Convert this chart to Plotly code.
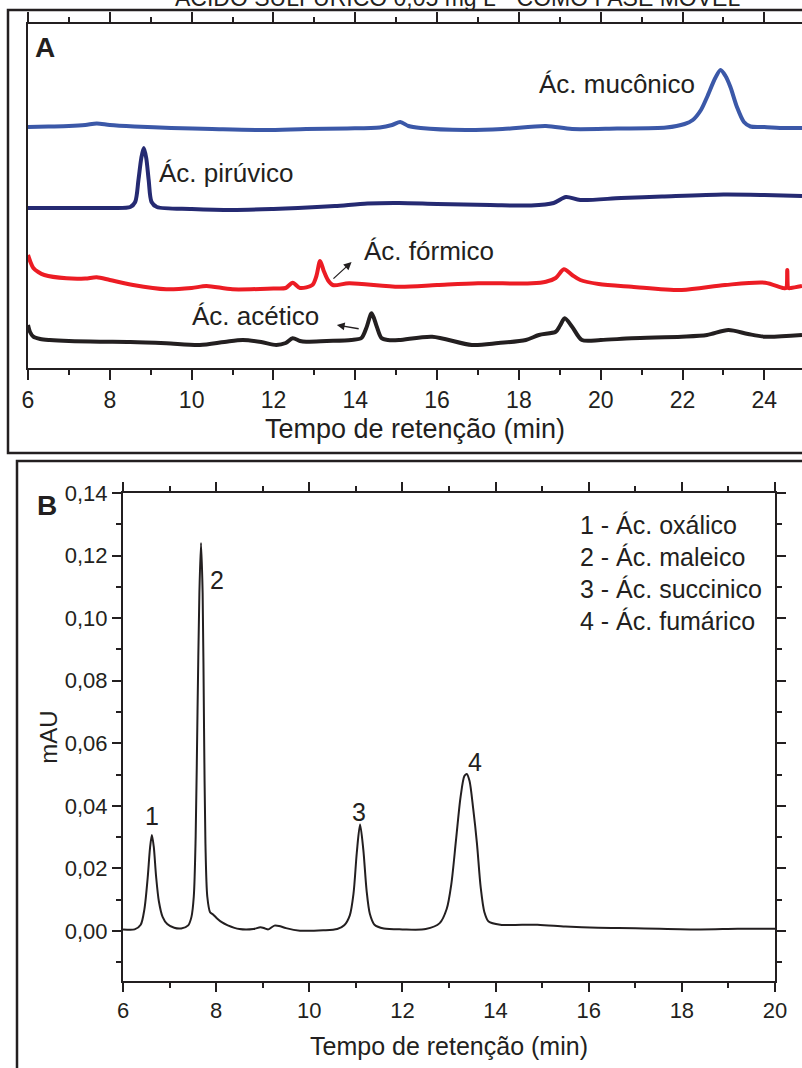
import plotly.graph_objects as go

# ---------------- Panel A data (retention time, min ; relative signal) ----------------
muc_t = [6.0, 6.5, 7.0, 7.4, 7.68, 8.0, 8.6, 9.5, 10.5, 11.8, 12.8, 13.8, 14.6, 14.9, 15.1, 15.3,
         15.6, 16.7, 17.6, 18.66, 19.3, 20.4, 21.6, 22.05, 22.25, 22.45, 22.6, 22.8, 22.93, 23.05,
         23.17, 23.33, 23.5, 23.66, 24.0, 24.5, 24.92]
muc_s = [241, 241.5, 242, 243, 244.5, 243, 241.5, 240, 239, 238, 239, 239.5, 240.5, 243, 246, 242,
         240, 238, 239, 242, 239, 239.5, 240.5, 244, 248, 258, 271, 290, 298, 292,
         281, 261, 246, 241.5, 241, 240, 240]

piru_t = [6.0, 7.0, 8.0, 8.5, 8.62, 8.70, 8.77, 8.83, 8.89, 8.95, 9.02, 9.15, 10.0, 11.0, 12.0,
          12.6, 13.5, 14.3, 15.07, 16.0, 17.3, 18.3, 18.85, 19.15, 19.5, 20.5, 21.5, 23.0, 24.0, 24.92]
piru_s = [160, 160, 160, 161, 166, 188, 210, 220, 210, 188, 166, 161, 159, 158, 159,
          160, 162, 164.5, 165, 164, 163, 162.5, 165, 171, 168, 170, 171.5, 173.5, 173, 172]

form_t = [6.0, 6.06, 6.13, 6.25, 6.4, 6.94, 7.4, 7.68, 8.0, 8.57, 9.38, 10.0, 10.36, 11.0, 12.0,
          12.3, 12.47, 12.65, 12.95, 13.05, 13.14, 13.23, 13.33, 13.45, 13.85, 15.07, 16.0, 17.0,
          18.32, 18.66, 18.9, 19.1, 19.3, 19.5, 19.95, 20.76, 21.98, 23.04, 24.02, 24.45, 24.53,
          24.56, 24.59, 24.65, 24.92]
form_s = [113, 106, 100, 96, 93, 89.7, 89.5, 90.7, 88, 83, 78.7, 80, 82, 78.7, 79.5,
          80, 85.3, 80, 83, 92, 107, 97, 88, 83, 84.7, 81.3, 83, 84.7,
          84.7, 86.3, 90, 98.7, 93, 88, 84, 81.3, 78, 83, 85.3, 80, 80,
          98, 80, 80, 82]

acet_t = [6.0, 6.05, 6.13, 6.3, 6.53, 7.0, 7.76, 8.5, 9.38, 10.2, 10.8, 11.25, 11.7, 12.07, 12.3,
          12.47, 12.65, 12.8, 13.3, 13.9, 14.15, 14.27, 14.4, 14.52, 14.64, 14.8, 15.07, 15.88,
          16.85, 17.5, 18.17, 18.49, 18.9, 19.0, 19.12, 19.3, 19.54, 20.0, 20.76, 21.98, 22.6,
          23.12, 23.6, 24.02, 24.92]
acet_s = [43, 36, 31.3, 29, 28, 27, 26.3, 26, 24.7, 23, 26, 28, 26, 23, 25,
          29.7, 27, 26.3, 27, 28, 30, 40, 54.7, 42, 30, 28, 28, 31.3,
          23, 25, 28, 33, 36.3, 42, 49.7, 41.3, 28, 28, 29.7, 31.3, 33,
          38, 34, 31.3, 33]

# ---------------- Panel B data (retention time, min ; mAU) ----------------
b_t = [6.0, 6.25, 6.38, 6.46, 6.53, 6.58, 6.62, 6.66, 6.71, 6.77, 6.85, 6.95, 7.1, 7.25, 7.4,
       7.47, 7.52, 7.56, 7.60, 7.64, 7.675, 7.71, 7.74, 7.77, 7.81, 7.87, 7.94, 8.02, 8.12, 8.25,
       8.5, 8.8, 8.95, 9.05, 9.12, 9.25, 9.35, 9.5, 9.8, 10.3, 10.6, 10.75, 10.87, 10.95, 11.02,
       11.09, 11.16, 11.23, 11.3, 11.4, 11.6, 12.0, 12.5, 12.8, 12.95, 13.05, 13.15, 13.25, 13.33,
       13.38, 13.44, 13.52, 13.6, 13.68, 13.76, 13.85, 14.1, 14.9, 15.5, 16.2, 17.0, 18.4, 19.2, 20.0]
b_v = [0.0005, 0.0005, 0.0020, 0.0070, 0.0170, 0.0265, 0.0307, 0.0270, 0.0175, 0.0095, 0.0045,
       0.0022, 0.0010, 0.0008, 0.0018,
       0.0045, 0.0110, 0.0300, 0.0700, 0.1080, 0.1240, 0.1080, 0.0650, 0.0280, 0.0110, 0.0060,
       0.0052, 0.0040, 0.0028, 0.0018,
       0.0006, 0.0006, 0.0012, 0.0008, 0.0005, 0.0017, 0.0016, 0.0009, 0.0001, 0.0002, 0.0006,
       0.0018, 0.0050, 0.0120, 0.0250,
       0.0340, 0.0260, 0.0130, 0.0055, 0.0020, 0.0008, 0.0005, 0.0006, 0.0025, 0.0070, 0.0150,
       0.0290, 0.0430, 0.0495,
       0.0502, 0.0480, 0.0390, 0.0280, 0.0140, 0.0060, 0.0030, 0.0020, 0.0020, 0.0014, 0.0010,
       0.0009, 0.0005, 0.0007, 0.0007]

peak_ids = ["1", "2", "3", "4"]
peak_lbl_t = [6.62, 8.01, 11.07, 13.56]
peak_lbl_v = [0.0368, 0.1122, 0.0380, 0.0540]
legend_lines = ["1 - Ác. oxálico", "2 - Ác. maleico", "3 - Ác. succinico", "4 - Ác. fumárico"]

xA_ticks = list(range(6, 25, 2))
xB_ticks = list(range(6, 21, 2))
yB_ticks = [0.0, 0.02, 0.04, 0.06, 0.08, 0.10, 0.12, 0.14]

W, H = 802, 1068
FONT = "Liberation Sans, Arial, Helvetica, sans-serif"
INK = "#231f20"

def px(x):
    return x / W

def py(y):
    return 1 - y / H

fig = go.Figure()
line_kw = dict(shape="spline", smoothing=0.8)
fig.add_trace(go.Scatter(x=muc_t, y=muc_s, mode="lines", line=dict(color="#3b58a8", width=4, **line_kw),
                         xaxis="x", yaxis="y", showlegend=False))
fig.add_trace(go.Scatter(x=piru_t, y=piru_s, mode="lines", line=dict(color="#252a72", width=4, **line_kw),
                         xaxis="x", yaxis="y", showlegend=False))
fig.add_trace(go.Scatter(x=form_t, y=form_s, mode="lines", line=dict(color="#ec1c24", width=4, **line_kw),
                         xaxis="x", yaxis="y", showlegend=False))
fig.add_trace(go.Scatter(x=acet_t, y=acet_s, mode="lines", line=dict(color=INK, width=4, **line_kw),
                         xaxis="x", yaxis="y", showlegend=False))
fig.add_trace(go.Scatter(x=b_t, y=b_v, mode="lines", line=dict(color=INK, width=2, **line_kw),
                         xaxis="x2", yaxis="y2", showlegend=False))

base_ax = dict(showgrid=False, zeroline=False, showline=True, linecolor=INK, linewidth=2, tickcolor=INK,
               automargin=False)

fig.update_layout(
    width=W, height=H, autosize=False,
    margin=dict(l=0, r=0, t=0, b=0, pad=0, autoexpand=False),
    paper_bgcolor="white", plot_bgcolor="white",
    separators=",.", showlegend=False,
    font=dict(family=FONT, color=INK),
    xaxis=dict(domain=[px(28), 1], range=[6, 24.92], anchor="y", mirror="allticks",
               ticks="outside", ticklen=10, tickwidth=1.5, tickvals=xA_ticks,
               minor=dict(dtick=1, ticks="outside", ticklen=5, tickwidth=1.5, tickcolor=INK),
               title=dict(text="Tempo de retenção (min)", font=dict(size=27, family=FONT, color=INK), standoff=8),
               tickfont=dict(family=FONT, color=INK, size=23), **base_ax),
    yaxis=dict(domain=[py(368), py(24)], range=[0, 344], anchor="x", ticks="", showticklabels=False,
               **base_ax),
    xaxis2=dict(domain=[px(123), px(775)], range=[6, 20], anchor="y2", mirror="allticks",
                ticks="outside", ticklen=9, tickwidth=1.5, tickvals=xB_ticks,
                minor=dict(dtick=1, ticks="outside", ticklen=5, tickwidth=1.5, tickcolor=INK),
                title=dict(text="Tempo de retenção (min)", font=dict(size=25, family=FONT, color=INK), standoff=15),
                tickfont=dict(family=FONT, color=INK, size=22), **base_ax),
    yaxis2=dict(domain=[py(981), py(493)], range=[-0.016, 0.14], anchor="x2", mirror="allticks",
                ticks="outside", ticklen=9, tickwidth=1.5, tickvals=yB_ticks, tickformat=".2f",
                minor=dict(dtick=0.01, ticks="outside", ticklen=5, tickwidth=1.5, tickcolor=INK),
                title=dict(text="mAU", font=dict(size=24, family=FONT, color=INK), standoff=0),
                tickfont=dict(family=FONT, color=INK, size=22), **base_ax),
)

# outer frames of the two panels
fig.add_shape(type="rect", xref="paper", yref="paper", x0=px(8), x1=1.05, y0=py(453), y1=py(10),
              line=dict(color=INK, width=2.5), fillcolor="rgba(0,0,0,0)", layer="above")
fig.add_shape(type="rect", xref="paper", yref="paper", x0=px(17), x1=1.05, y0=-0.05, y1=py(461),
              line=dict(color=INK, width=2.5), fillcolor="rgba(0,0,0,0)", layer="above")

ann = []
# cut-off page title at the very top
ann.append(dict(text="ÁCIDO SULFÚRICO 0,05 mg L<sup>-1</sup> COMO FASE MÓVEL", xref="paper", yref="paper",
                x=px(457), y=py(-4), xanchor="center", yanchor="middle", showarrow=False,
                font=dict(size=23, family=FONT, color=INK)))
# panel letters
ann.append(dict(text="<b>A</b>", xref="paper", yref="paper", x=px(45), y=py(47), xanchor="center",
                yanchor="middle", showarrow=False, font=dict(size=28, family=FONT, color=INK)))
ann.append(dict(text="<b>B</b>", xref="paper", yref="paper", x=px(47), y=py(505), xanchor="center",
                yanchor="middle", showarrow=False, font=dict(size=28, family=FONT, color=INK)))

# panel A compound labels
a_font = dict(size=26, family=FONT, color=INK)
ann.append(dict(text="Ác. mucônico", x=22.36, y=284, xref="x", yref="y", xanchor="right", yanchor="middle",
                showarrow=False, font=a_font))
ann.append(dict(text="Ác. pirúvico", x=9.15, y=195, xref="x", yref="y", xanchor="left", yanchor="middle",
                showarrow=False, font=a_font))
ann.append(dict(text="Ác. fórmico", x=14.17, y=117, xref="x", yref="y", xanchor="left", yanchor="middle",
                showarrow=False, font=a_font))
ann.append(dict(text="Ác. acético", x=9.96, y=52, xref="x", yref="y", xanchor="left", yanchor="middle",
                showarrow=False, font=a_font))
# arrows
ann.append(dict(text="", x=13.91, y=106, ax=13.43, ay=88, xref="x", yref="y", axref="x", ayref="y",
                showarrow=True, arrowhead=2, arrowsize=1.2, arrowwidth=1.3, arrowcolor=INK))
ann.append(dict(text="", x=13.55, y=43, ax=14.12, ay=39, xref="x", yref="y", axref="x", ayref="y",
                showarrow=True, arrowhead=2, arrowsize=1.2, arrowwidth=1.3, arrowcolor=INK))

# panel B peak numbers
for lab, t, v in zip(peak_ids, peak_lbl_t, peak_lbl_v):
    ann.append(dict(text=lab, x=t, y=v, xref="x2", yref="y2", xanchor="center", yanchor="middle",
                    showarrow=False, font=dict(size=25, family=FONT, color=INK)))

# panel B legend text
leg_v = [0.1298, 0.1195, 0.1093, 0.0991]
for txt, v in zip(legend_lines, leg_v):
    ann.append(dict(text=txt, x=15.77, y=v, xref="x2", yref="y2", xanchor="left", yanchor="middle",
                    showarrow=False, font=dict(size=25, family=FONT, color=INK)))

fig.update_layout(annotations=ann)
fig.write_html("out.html")
